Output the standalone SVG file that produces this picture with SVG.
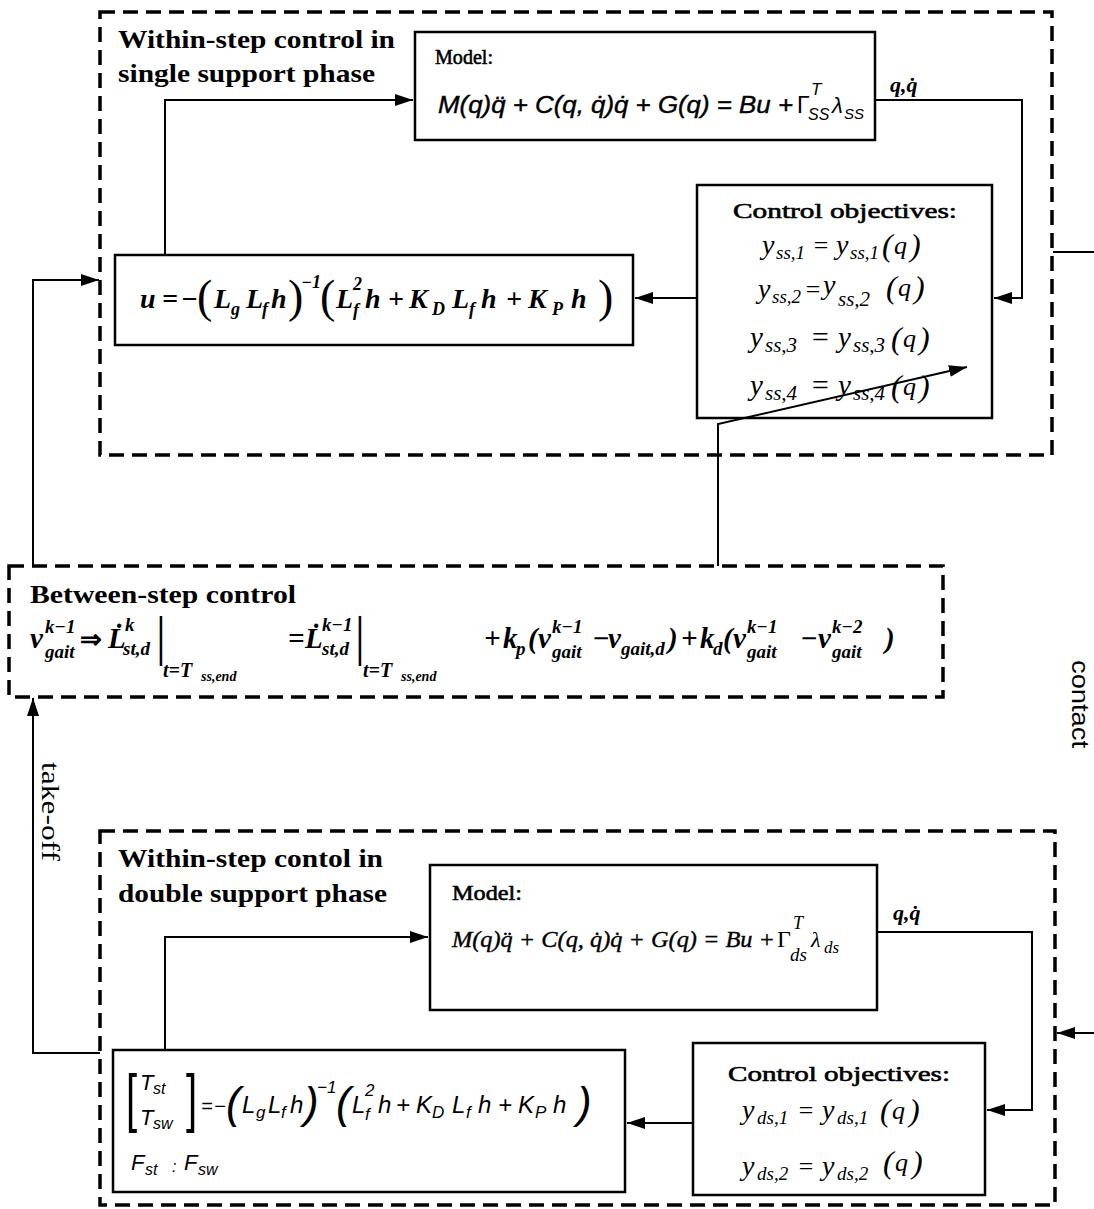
<svg xmlns="http://www.w3.org/2000/svg" width="1094" height="1209" viewBox="0 0 1094 1209">
<defs>
<style>
.dash{fill:none;stroke:#000;stroke-width:3.5;stroke-dasharray:15 8}
.box{fill:#fff;stroke:#000;stroke-width:2.5}
.ln{fill:none;stroke:#000;stroke-width:2}
.ttl{font-family:"Liberation Serif",serif;font-weight:bold;font-size:25px}
.lbl{font-family:"Liberation Serif",serif;font-size:22px;stroke:#000;stroke-width:0.6}
.n{font-family:"Liberation Serif",serif}
.ns{font-family:"Liberation Sans",sans-serif}
.mi{font-family:"Liberation Serif",serif;font-style:italic}
.bi{font-family:"Liberation Serif",serif;font-style:italic;font-weight:bold}
.si{font-family:"Liberation Sans",sans-serif;font-style:italic}
</style>
<marker id="ah" markerWidth="18" markerHeight="12" refX="18" refY="6" orient="auto" markerUnits="userSpaceOnUse"><path d="M0,0 L18,6 L0,12 z" fill="#000"/></marker>
</defs>
<rect width="1094" height="1209" fill="#fff"/>

<g id="ss-phase">
<rect class="dash" x="100" y="12" width="952" height="443"/>
<text class="ttl" x="118" y="48" textLength="277" lengthAdjust="spacingAndGlyphs">Within-step control in</text>
<text class="ttl" x="118" y="82" textLength="257" lengthAdjust="spacingAndGlyphs">single support phase</text>
</g>

<g id="ss-model">
<rect class="box" x="415" y="32" width="460" height="108"/>
<text class="lbl" x="435" y="64" textLength="58" lengthAdjust="spacingAndGlyphs">Model:</text>
<text class="si" x="438" y="113" font-size="23" stroke="#000" stroke-width="0.4" textLength="355" lengthAdjust="spacingAndGlyphs">M(q)q&#x308; + C(q, q&#x307;)q&#x307; + G(q) = Bu +</text>
<text class="ns" x="797" y="113" font-size="23">Γ</text>
<text class="si" x="811" y="95" font-size="17">T</text>
<text class="si" x="808" y="120" font-size="16">SS</text>
<text class="si" x="832" y="113" font-size="22">λ</text>
<text class="si" x="844" y="119" font-size="15">SS</text>
</g>

<g id="ss-objectives">
<rect class="box" x="697" y="185" width="295" height="233"/>
<text class="lbl" x="845" y="218" text-anchor="middle" textLength="224" lengthAdjust="spacingAndGlyphs">Control objectives:</text>
<g class="mi">
<text x="762" y="254" font-size="28">y</text><text x="776" y="259" font-size="19">ss,1</text>
<text class="n" x="812" y="254" font-size="26">=</text>
<text x="836" y="254" font-size="28">y</text><text x="850" y="259" font-size="19">ss,1</text>
<text class="n" x="882" y="256" font-size="32">(</text><text x="894" y="254" font-size="26">q</text><text class="n" x="910" y="256" font-size="32">)</text>

<text x="758" y="298" font-size="28">y</text><text x="772" y="303" font-size="19">ss,2</text>
<text class="n" x="804" y="298" font-size="26">=</text>
<text x="823" y="294" font-size="28">y</text><text x="838" y="306" font-size="21">ss,2</text>
<text class="n" x="886" y="298" font-size="32">(</text><text x="898" y="296" font-size="26">q</text><text class="n" x="914" y="298" font-size="32">)</text>

<text x="750" y="347" font-size="29">y</text><text x="765" y="352" font-size="21">ss,3</text>
<text class="n" x="810" y="347" font-size="30">=</text>
<text x="838" y="347" font-size="29">y</text><text x="853" y="352" font-size="21">ss,3</text>
<text class="n" x="891" y="349" font-size="32">(</text><text x="903" y="347" font-size="26">q</text><text class="n" x="919" y="349" font-size="32">)</text>

<text x="750" y="395" font-size="29">y</text><text x="765" y="400" font-size="21">ss,4</text>
<text class="n" x="810" y="395" font-size="30">=</text>
<text x="838" y="395" font-size="29">y</text><text x="853" y="400" font-size="21">ss,4</text>
<text class="n" x="891" y="397" font-size="32">(</text><text x="903" y="395" font-size="26">q</text><text class="n" x="919" y="397" font-size="32">)</text>
</g>
</g>

<g id="ss-controller">
<rect class="box" x="115" y="255" width="518" height="90"/>
<g class="bi" font-size="28">
<text x="140" y="308">u</text>
<text x="162" y="308">=</text>
<text x="181" y="308">−</text>
<text class="n" x="197" y="312" font-size="46" font-weight="normal" font-style="normal">(</text>
<text x="214" y="308">L</text><text x="231" y="315" font-size="18">g</text>
<text x="246" y="308">L</text><text x="262" y="315" font-size="18">f</text>
<text x="271" y="308">h</text>
<text class="n" x="288" y="312" font-size="46" font-weight="normal" font-style="normal">)</text>
<text x="301" y="288" font-size="18">−1</text>
<text class="n" x="320" y="312" font-size="46" font-weight="normal" font-style="normal">(</text>
<text x="336" y="308">L</text><text x="353" y="290" font-size="18">2</text><text x="353" y="316" font-size="18">f</text>
<text x="365" y="308">h</text>
<text x="388" y="308">+</text>
<text x="409" y="308">K</text><text x="432" y="315" font-size="18">D</text>
<text x="452" y="308">L</text><text x="469" y="315" font-size="18">f</text>
<text x="481" y="308">h</text>
<text x="506" y="308">+</text>
<text x="528" y="308">K</text><text x="552" y="315" font-size="18">P</text>
<text x="571" y="308">h</text>
<text class="n" x="598" y="312" font-size="46" font-weight="normal" font-style="normal">)</text>
</g>
</g>

<g id="between-step">
<rect class="dash" x="9" y="566" width="934" height="131"/>
<text class="ttl" x="30" y="603" textLength="266" lengthAdjust="spacingAndGlyphs">Between-step control</text>
<g class="bi" font-size="29">
<text x="30" y="648">v</text><text x="45" y="633" font-size="19">k−1</text><text x="45" y="658" font-size="19">gait</text>
<text class="n" x="80" y="648" font-size="26" font-style="normal">⇒</text>
<text x="108" y="648">L&#x307;</text><text x="125" y="631" font-size="19">k</text><text x="123" y="655" font-size="19">st,d</text>
<text class="ns" transform="translate(157,655) scale(1,1.8)" font-size="30" font-weight="normal" font-style="normal">|</text>
<text x="163" y="677" font-size="20">t=T</text><text x="201" y="681" font-size="14">ss,end</text>
<text x="288" y="648">=</text>
<text x="305" y="648">L&#x307;</text><text x="322" y="631" font-size="19">k−1</text><text x="322" y="655" font-size="19">st,d</text>
<text class="ns" transform="translate(356,655) scale(1,1.8)" font-size="30" font-weight="normal" font-style="normal">|</text>
<text x="363" y="677" font-size="20">t=T</text><text x="401" y="681" font-size="14">ss,end</text>
<text x="484" y="648">+</text>
<text x="503" y="648">k</text><text x="516" y="655" font-size="19">p</text>
<text x="528" y="648">(</text>
<text x="538" y="648">v</text><text x="552" y="633" font-size="19">k−1</text><text x="552" y="658" font-size="19">gait</text>
<text x="592" y="648">−</text>
<text x="608" y="648">v</text><text x="621" y="655" font-size="19">gait,d</text>
<text x="668" y="648">)</text>
<text x="681" y="648">+</text>
<text x="700" y="648">k</text><text x="713" y="655" font-size="19">d</text>
<text x="723" y="648">(</text>
<text x="733" y="648">v</text><text x="747" y="633" font-size="19">k−1</text><text x="747" y="658" font-size="19">gait</text>
<text x="800" y="648">−</text>
<text x="818" y="648">v</text><text x="832" y="633" font-size="19">k−2</text><text x="832" y="658" font-size="19">gait</text>
<text x="885" y="648">)</text>
</g>
</g>

<g id="ds-phase">
<rect class="dash" x="100" y="831" width="955" height="374"/>
<text class="ttl" x="118" y="867" textLength="265" lengthAdjust="spacingAndGlyphs">Within-step contol in</text>
<text class="ttl" x="118" y="902" textLength="269" lengthAdjust="spacingAndGlyphs">double support phase</text>
</g>

<g id="ds-model">
<rect class="box" x="430" y="865" width="447" height="145"/>
<text class="lbl" x="452" y="900" font-size="23" textLength="70" lengthAdjust="spacingAndGlyphs">Model:</text>
<text class="mi" x="452" y="947" font-size="24" stroke="#000" stroke-width="0.4" textLength="323" lengthAdjust="spacingAndGlyphs">M(q)q&#x308; + C(q, q&#x307;)q&#x307; + G(q) = Bu +</text>
<text class="n" x="777" y="947" font-size="24">Γ</text>
<text class="mi" x="793" y="929" font-size="18">T</text>
<text class="mi" x="790" y="961" font-size="19">ds</text>
<text class="mi" x="811" y="947" font-size="22">λ</text>
<text class="mi" x="824" y="953" font-size="17">ds</text>
</g>

<g id="ds-objectives">
<rect class="box" x="693" y="1043" width="292" height="152"/>
<text class="lbl" x="839" y="1081" text-anchor="middle" textLength="222" lengthAdjust="spacingAndGlyphs">Control objectives:</text>
<g class="mi">
<text x="742" y="1119" font-size="28">y</text><text x="757" y="1124" font-size="19">ds,1</text>
<text class="n" x="797" y="1119" font-size="26">=</text>
<text x="822" y="1119" font-size="28">y</text><text x="837" y="1124" font-size="19">ds,1</text>
<text class="n" x="880" y="1121" font-size="32">(</text><text x="892" y="1119" font-size="26">q</text><text class="n" x="909" y="1121" font-size="32">)</text>
<text x="742" y="1175" font-size="28">y</text><text x="757" y="1180" font-size="19">ds,2</text>
<text class="n" x="797" y="1175" font-size="26">=</text>
<text x="822" y="1175" font-size="28">y</text><text x="837" y="1180" font-size="19">ds,2</text>
<text class="n" x="883" y="1173" font-size="32">(</text><text x="895" y="1171" font-size="26">q</text><text class="n" x="912" y="1173" font-size="32">)</text>
</g>
</g>

<g id="ds-controller">
<rect class="box" x="113" y="1050" width="512" height="142"/>
<text class="ns" transform="translate(126,1120) scale(1,1.6)" font-size="40">[</text>
<text class="ns" transform="translate(186,1120) scale(1,1.6)" font-size="40">]</text>
<g class="si" font-size="24">
<text x="140" y="1090" font-size="22">T</text><text x="153" y="1094" font-size="16">st</text>
<text x="140" y="1125" font-size="22">T</text><text x="153" y="1129" font-size="16">sw</text>
<text class="ns" x="201" y="1113" font-size="20">=</text>
<text class="ns" x="214" y="1113" font-size="20">−</text>
<text class="ns" x="226" y="1118" font-size="44">(</text>
<text x="242" y="1113">L</text><text x="256" y="1118" font-size="17">g</text>
<text x="268" y="1113">L</text><text x="281" y="1118" font-size="17">f</text>
<text x="290" y="1113">h</text>
<text class="ns" x="304" y="1118" font-size="44">)</text>
<text class="ns" x="317" y="1093" font-size="17">−1</text>
<text class="ns" x="336" y="1118" font-size="44">(</text>
<text x="352" y="1113">L</text><text x="365" y="1096" font-size="17">2</text><text x="365" y="1120" font-size="17">f</text>
<text x="378" y="1113">h</text>
<text class="ns" x="396" y="1113">+</text>
<text x="416" y="1113">K</text><text x="432" y="1118" font-size="17">D</text>
<text x="452" y="1113">L</text><text x="466" y="1118" font-size="17">f</text>
<text x="478" y="1113">h</text>
<text class="ns" x="498" y="1113">+</text>
<text x="518" y="1113">K</text><text x="535" y="1118" font-size="17">P</text>
<text x="553" y="1113">h</text>
<text class="ns" x="577" y="1118" font-size="44">)</text>
<text x="131" y="1170" font-size="22">F</text><text x="145" y="1175" font-size="16">st</text>
<text class="ns" x="172" y="1172" font-size="16">:</text>
<text x="184" y="1170" font-size="22">F</text><text x="198" y="1175" font-size="16">sw</text>
</g>
</g>

<g id="connectors">
<path class="ln" d="M165,255 V100 H413" marker-end="url(#ah)"/>
<path class="ln" d="M875,100 H1022 V298 H994" marker-end="url(#ah)"/>
<path class="ln" d="M697,298 H635" marker-end="url(#ah)"/>
<path class="ln" d="M33,566 V280 H99" marker-end="url(#ah)"/>
<path class="ln" d="M718,566 V424 L967,367" marker-end="url(#ah)"/>
<path class="ln" d="M1094,252 H1053"/>
<path class="ln" d="M1094,1033 H1057" marker-end="url(#ah)"/>
<path class="ln" d="M100,1053 H33 V698" marker-end="url(#ah)"/>
<path class="ln" d="M165,1050 V937 H428" marker-end="url(#ah)"/>
<path class="ln" d="M877,932 H1032 V1110 H987" marker-end="url(#ah)"/>
<path class="ln" d="M693,1123 H627" marker-end="url(#ah)"/>
</g>

<g id="edge-labels">
<text class="bi" x="890" y="92" font-size="22">q,q&#x307;</text>
<text class="bi" x="893" y="920" font-size="22">q,q&#x307;</text>
<text class="n" transform="translate(42,762) rotate(90)" font-size="26" textLength="99" lengthAdjust="spacingAndGlyphs">take-off</text>
<text class="ns" transform="translate(1072,660) rotate(90)" font-size="24" textLength="88" lengthAdjust="spacingAndGlyphs">contact</text>
</g>
</svg>
